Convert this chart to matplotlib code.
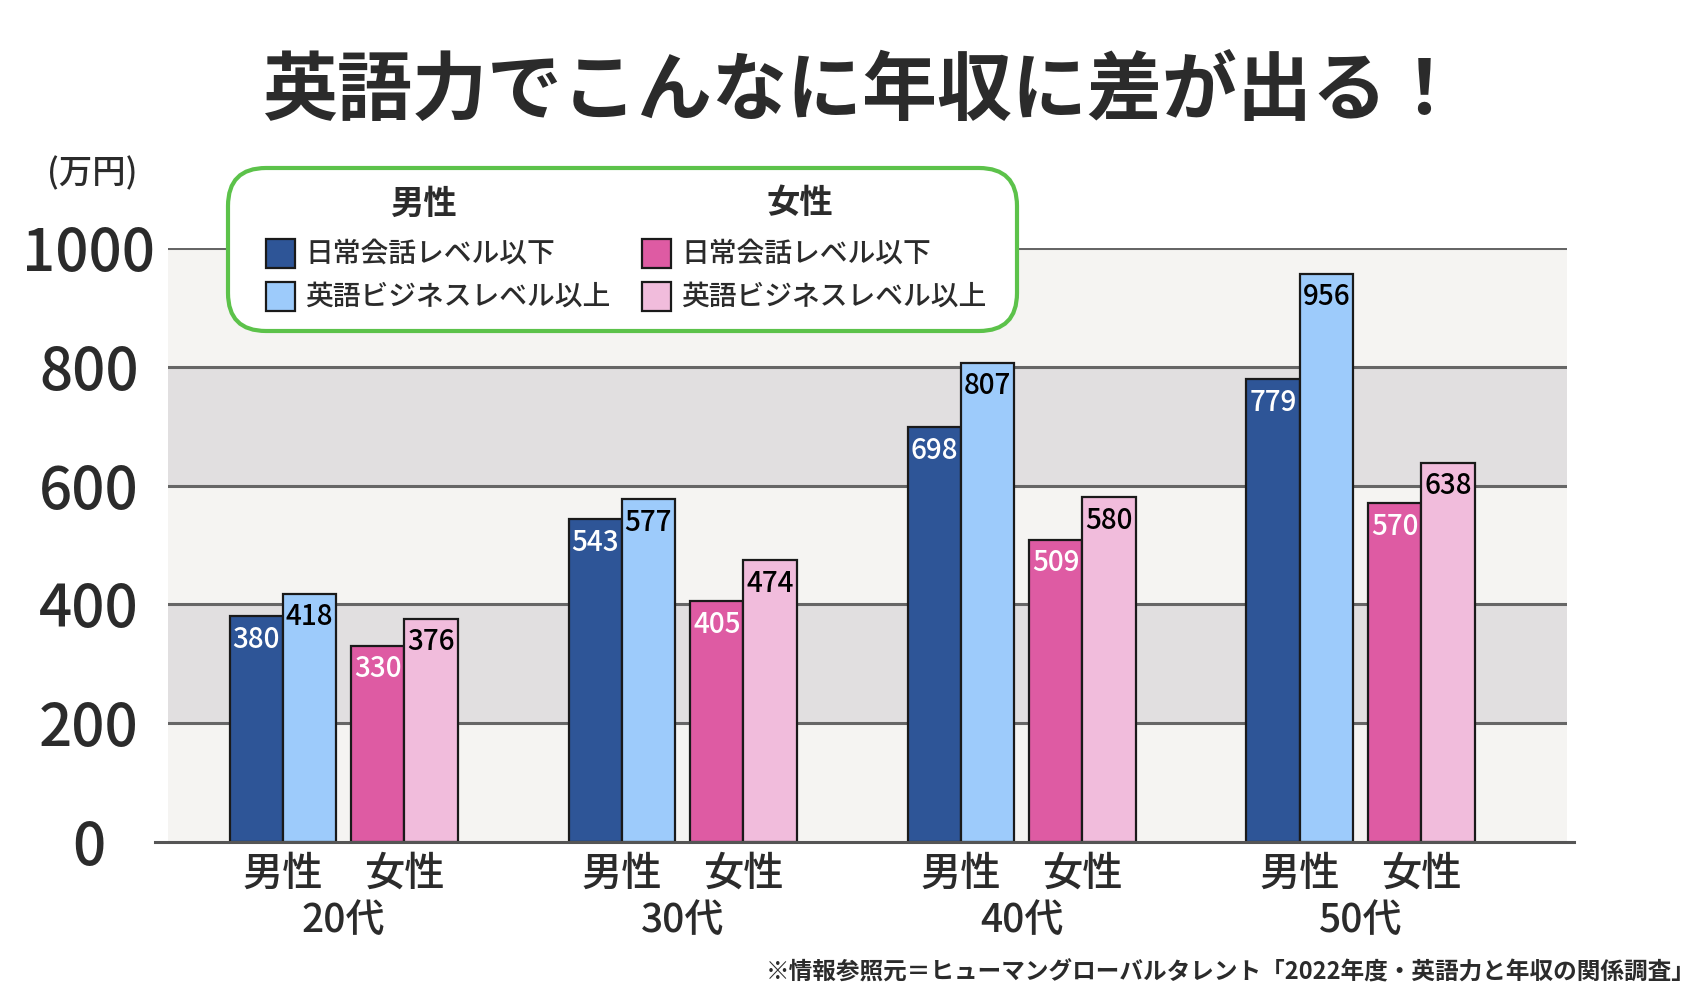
import matplotlib
matplotlib.use('Agg')
import matplotlib.pyplot as plt
from matplotlib.patches import FancyBboxPatch, Rectangle

plt.rcParams['font.family'] = ['Noto Sans CJK JP', 'DejaVu Sans']

# data
ages = ['20代', '30代', '40代', '50代']
male_basic = [380, 543, 698, 779]      # 男性 日常会話レベル以下
male_biz = [418, 577, 807, 956]        # 男性 英語ビジネスレベル以上
female_basic = [330, 405, 509, 570]    # 女性 日常会話レベル以下
female_biz = [376, 474, 580, 638]      # 女性 英語ビジネスレベル以上
y_ticks = [0, 200, 400, 600, 800, 1000]
series_names = ['日常会話レベル以下', '英語ビジネスレベル以上']

c_male = ['#2e5597', '#9dcbfb']
c_female = ['#de5ba3', '#f1bcdc']
txt_color = '#2b2b2b'

fig = plt.figure(figsize=(17, 10), dpi=100)
fig.patch.set_facecolor('white')

# main chart axes
ax = fig.add_axes([168 / 1700, 158 / 1000, 1399 / 1700, 594 / 1000])
ax.set_facecolor('#f5f4f2')
ax.set_xlim(-0.518, 3.609)
ax.set_ylim(0, 1000)
for lo, hi in [(200, 400), (600, 800)]:
    ax.axhspan(lo, hi, color='#e1dfe0', zorder=0, lw=0)
for t in y_ticks[1:]:
    ax.axhline(t, color='#666666', lw=2.2, zorder=1)
ax.axhline(0, xmin=-0.009, xmax=1.005, color='#555555', lw=2.2, zorder=4, clip_on=False)
for s in ax.spines.values():
    s.set_visible(False)

w = 0.157
offsets = [-0.258, -0.101, 0.101, 0.258]
series = [(male_basic, c_male[0], 'white'), (male_biz, c_male[1], 'black'),
          (female_basic, c_female[0], 'white'), (female_biz, c_female[1], 'black')]
xs = list(range(len(ages)))
for (vals, col, tcol), off in zip(series, offsets):
    pos = [x + off for x in xs]
    ax.bar(pos, vals, width=w, color=col, edgecolor='#1a1a1a', linewidth=1.6, zorder=3)
    for p, v in zip(pos, vals):
        ax.annotate(str(v), (p, v), xytext=(0, -6), textcoords='offset points',
                    ha='center', va='top', fontsize=20, color=tcol, zorder=5,
                    fontweight='medium')

# y ticks
ax.set_yticks(y_ticks)
ax.set_yticklabels([str(t) for t in y_ticks], ha='center', fontsize=42,
                   color=txt_color, fontweight='medium')
ax.tick_params(axis='y', length=0, pad=57)
ax.set_xticks([])

# x labels: gender under each pair, age under each group
for x, age in zip(xs, ages):
    ax.text(x - 0.18, -0.054, '男性', transform=ax.get_xaxis_transform(), ha='center',
            va='center', fontsize=29, color=txt_color, fontweight='medium')
    ax.text(x + 0.18, -0.054, '女性', transform=ax.get_xaxis_transform(), ha='center',
            va='center', fontsize=29, color=txt_color, fontweight='medium')
    ax.text(x, -0.133, age, transform=ax.get_xaxis_transform(), ha='center',
            va='center', fontsize=28, color=txt_color, fontweight='medium')

# overlay in pixel coords for title, legend, notes
ov = fig.add_axes([0, 0, 1, 1], zorder=10)
ov.set_xlim(0, 1700)
ov.set_ylim(1000, 0)
ov.axis('off')

ov.text(862, 92, '英語力でこんなに年収に差が出る！', ha='center', va='center',
        fontsize=54, fontweight='bold', color=txt_color)
ov.text(92, 174, '(万円)', ha='center', va='center', fontsize=24,
        color=txt_color, fontweight='medium')

box = FancyBboxPatch((228, 168), 789, 163, boxstyle='round,pad=0,rounding_size=38',
                     facecolor='white', edgecolor='#5cc24a', linewidth=3)
ov.add_patch(box)
for hx, head, cols, sx in [(423, '男性', c_male, 266), (800, '女性', c_female, 642)]:
    ov.text(hx, 204, head, ha='center', va='center', fontsize=24,
            fontweight='bold', color=txt_color)
    for row_y, col, name in zip([253, 296], cols, series_names):
        ov.add_patch(Rectangle((sx, row_y - 14), 29, 29, facecolor=col,
                               edgecolor='#1a1a1a', linewidth=1.6))
        ov.text(sx + 39, row_y, name, ha='left', va='center', fontsize=20,
                color=txt_color, fontweight='medium')

ov.text(1696, 972, '※情報参照元＝ヒューマングローバルタレント「2022年度・英語力と年収の関係調査」',
        ha='right', va='center', fontsize=17, color=txt_color, fontweight='bold')

fig.savefig('out.png', dpi=100)
